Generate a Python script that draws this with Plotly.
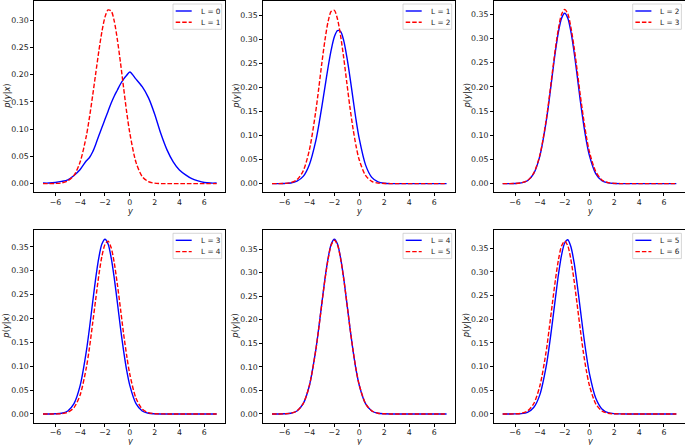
import plotly.graph_objects as go

W, H = 685, 445

# ---------------- data ----------------
x_vals = [-7.0, -6.5, -6.0, -5.5, -5.0, -4.5, -4.0, -3.5,
          -3.25, -3.0, -2.75, -2.5, -2.25, -2.0, -1.75, -1.5, -1.25, -1.0,
          -0.75, -0.5, -0.25, 0.0,
          0.5, 1.0, 1.5, 2.0, 2.5, 3.0, 3.5, 4.0, 4.5, 5.0, 5.5, 6.0, 6.5, 7.0]

x_ticks = [-6, -4, -2, 0, 2, 4, 6]

# panel 1
p1_L0 = [0.001, 0.001, 0.002, 0.004, 0.007, 0.015, 0.026, 0.042,
         0.048, 0.058, 0.072, 0.088, 0.103, 0.118, 0.133, 0.148, 0.161, 0.172,
         0.183, 0.192, 0.199, 0.205,
         0.192, 0.178, 0.158, 0.128, 0.092, 0.062, 0.040, 0.025, 0.016, 0.009,
         0.005, 0.002, 0.001, 0.001]
p1_L1 = [0.0, 0.0, 0.0003, 0.0012, 0.005, 0.015, 0.040, 0.088,
         0.122, 0.161, 0.202, 0.243, 0.279, 0.306, 0.319, 0.317, 0.298, 0.264,
         0.222, 0.176, 0.131, 0.093,
         0.039, 0.013, 0.0036, 0.0008, 0.0, 0.0, 0.0, 0.0, 0.0, 0.0,
         0.0, 0.0, 0.0, 0.0]
# panel 2
p2_L1 = [0.0, 0.0, 0.0003, 0.0012, 0.005, 0.015, 0.040, 0.088,
         0.122, 0.161, 0.202, 0.243, 0.279, 0.306, 0.319, 0.317, 0.298, 0.264,
         0.222, 0.176, 0.131, 0.093,
         0.039, 0.013, 0.0036, 0.0008, 0.0, 0.0, 0.0, 0.0, 0.0, 0.0,
         0.0, 0.0, 0.0, 0.0]
p2_L2 = [0.0, 0.0, 0.0004, 0.0019, 0.0081, 0.0266, 0.0704, 0.149,
         0.199, 0.252, 0.300, 0.338, 0.359, 0.361, 0.343, 0.308, 0.262, 0.210,
         0.159, 0.114, 0.077, 0.049,
         0.017, 0.0046, 0.001, 0.0002, 0.0, 0.0, 0.0, 0.0, 0.0, 0.0,
         0.0, 0.0, 0.0, 0.0]
# panel 3
p3_L2 = [0.0, 0.0, 0.0002, 0.0014, 0.0059, 0.0207, 0.0574, 0.127,
         0.173, 0.224, 0.273, 0.314, 0.342, 0.352, 0.342, 0.314, 0.273, 0.224,
         0.173, 0.127, 0.0877, 0.0574,
         0.0207, 0.0059, 0.0014, 0.0002, 0.0, 0.0, 0.0, 0.0, 0.0, 0.0,
         0.0, 0.0, 0.0, 0.0]
p3_L3 = [0.0, 0.0, 0.0002, 0.0015, 0.0062, 0.0215, 0.059, 0.130,
         0.177, 0.229, 0.279, 0.321, 0.350, 0.360, 0.351, 0.323, 0.283, 0.235,
         0.184, 0.138, 0.097, 0.065,
         0.025, 0.0075, 0.002, 0.0004, 0.0, 0.0, 0.0, 0.0, 0.0, 0.0,
         0.0, 0.0, 0.0, 0.0]
# panel 4
p4_L3 = [0.0, 0.0, 0.0003, 0.0014, 0.0062, 0.0215, 0.0597, 0.132,
         0.180, 0.233, 0.284, 0.327, 0.356, 0.366, 0.356, 0.327, 0.284, 0.233,
         0.180, 0.132, 0.0911, 0.0597,
         0.0215, 0.0062, 0.0014, 0.0003, 0.0, 0.0, 0.0, 0.0, 0.0, 0.0,
         0.0, 0.0, 0.0, 0.0]
p4_L4 = [0.0, 0.0, 0.0001, 0.0007, 0.0035, 0.0133, 0.0402, 0.0977,
         0.139, 0.189, 0.240, 0.290, 0.330, 0.355, 0.362, 0.348, 0.316, 0.271,
         0.220, 0.168, 0.122, 0.0833,
         0.0329, 0.0104, 0.0026, 0.0005, 0.0001, 0.0, 0.0, 0.0, 0.0, 0.0,
         0.0, 0.0, 0.0, 0.0]
# panel 5
p5_L4 = [0.0, 0.0, 0.0003, 0.0014, 0.0063, 0.0218, 0.0605, 0.134,
         0.183, 0.236, 0.288, 0.331, 0.361, 0.371, 0.361, 0.331, 0.288, 0.236,
         0.183, 0.134, 0.0924, 0.0605,
         0.0218, 0.0063, 0.0014, 0.0003, 0.0, 0.0, 0.0, 0.0, 0.0, 0.0,
         0.0, 0.0, 0.0, 0.0]
p5_L5 = [0.0, 0.0, 0.0003, 0.0015, 0.0064, 0.0220, 0.0608, 0.134,
         0.182, 0.235, 0.286, 0.329, 0.359, 0.369, 0.359, 0.330, 0.287, 0.236,
         0.183, 0.135, 0.0930, 0.0612,
         0.0222, 0.0065, 0.0015, 0.0003, 0.0, 0.0, 0.0, 0.0, 0.0, 0.0,
         0.0, 0.0, 0.0, 0.0]
# panel 6
p6_L5 = [0.0, 0.0, 0.0001, 0.0007, 0.0035, 0.0135, 0.0408, 0.0994,
         0.142, 0.192, 0.244, 0.295, 0.336, 0.361, 0.368, 0.353, 0.321, 0.275,
         0.223, 0.171, 0.124, 0.0846,
         0.0335, 0.0106, 0.0026, 0.0005, 0.0001, 0.0, 0.0, 0.0, 0.0, 0.0,
         0.0, 0.0, 0.0, 0.0]
p6_L6 = [0.0, 0.0, 0.0003, 0.0014, 0.0062, 0.0215, 0.0595, 0.131,
         0.180, 0.232, 0.283, 0.326, 0.355, 0.365, 0.355, 0.326, 0.283, 0.232,
         0.180, 0.131, 0.0909, 0.0595,
         0.0215, 0.0062, 0.0014, 0.0003, 0.0, 0.0, 0.0, 0.0, 0.0, 0.0,
         0.0, 0.0, 0.0, 0.0]

blue_names = ["L = 0", "L = 1", "L = 2", "L = 3", "L = 4", "L = 5"]
red_names = ["L = 1", "L = 2", "L = 3", "L = 4", "L = 5", "L = 6"]
blue_series = [p1_L0, p2_L1, p3_L2, p4_L3, p5_L4, p6_L5]
red_series = [p1_L1, p2_L2, p3_L3, p4_L4, p5_L5, p6_L6]
y_peaks = [0.32, 0.363, 0.36, 0.367, 0.372, 0.370]

# ---------------- layout geometry (pixels) ----------------
col_px = [(34.3, 225.3), (263.3, 455.3), (494.0, 685.0)]
row_px = [(0.7, 192.3), (230.0, 422.7)]

BLUE, RED = "#0000ff", "#ff0000"
DASH = "4.5px,2px"
FONT = "DejaVu Sans"
TXT = "#222222"


def px(x):
    return x / W


def py(y):
    return 1 - y / H


fig = go.Figure()
layout = dict(
    width=W, height=H,
    margin=dict(l=0, r=0, t=0, b=0),
    paper_bgcolor="white", plot_bgcolor="white",
    showlegend=False,
    font=dict(family=FONT, size=8, color=TXT),
)
annotations = []
shapes = []

for i in range(6):
    r, c = divmod(i, 3)
    sfx = "" if i == 0 else str(i + 1)
    xa, ya = "x" + sfx, "y" + sfx
    L, R = col_px[c]
    T, B = row_px[r]

    fig.add_trace(go.Scatter(
        x=x_vals, y=blue_series[i], name=blue_names[i], mode="lines",
        line=dict(color=BLUE, width=1.4, shape="spline", smoothing=0.8),
        xaxis=xa, yaxis=ya))
    fig.add_trace(go.Scatter(
        x=x_vals, y=red_series[i], name=red_names[i], mode="lines",
        line=dict(color=RED, width=1.4, dash=DASH, shape="spline", smoothing=0.8),
        xaxis=xa, yaxis=ya))

    common = dict(showline=True, mirror=True, linecolor="#000000", linewidth=1,
                  ticks="outside", ticklen=3, tickwidth=1, tickcolor="#000000",
                  showgrid=False, zeroline=False,
                  tickfont=dict(family=FONT, size=7.8, color=TXT))
    pk = y_peaks[i]
    layout["xaxis" + sfx] = dict(domain=[px(L), px(R)], anchor=ya,
                                 range=[-7.7, 7.7], tickmode="array",
                                 tickvals=x_ticks, ticklabelstandoff=-1,
                                 **common)
    layout["yaxis" + sfx] = dict(domain=[py(B), py(T)], anchor=xa,
                                 range=[-0.05 * pk, 1.05 * pk], dtick=0.05,
                                 tick0=0, tickformat=".2f", **common)

    # legend box (matplotlib style, upper right)
    bx1 = R - 3.6
    bx0 = bx1 - 48.7
    by0 = T + 3.3
    by1 = by0 + 25.3
    shapes.append(dict(type="rect", xref="paper", yref="paper",
                       x0=px(bx0), x1=px(bx1), y0=py(by1), y1=py(by0),
                       fillcolor="rgba(255,255,255,0.8)",
                       line=dict(color="#cccccc", width=0.8), layer="above"))
    for k, (nm, col, dash) in enumerate([(blue_names[i], BLUE, "solid"),
                                          (red_names[i], RED, DASH)]):
        ey = by0 + 7 + k * 11.3
        shapes.append(dict(type="line", xref="paper", yref="paper",
                           x0=px(bx0 + 2.7), x1=px(bx0 + 18.7),
                           y0=py(ey), y1=py(ey),
                           line=dict(color=col, width=1.4, dash=dash),
                           layer="above"))
        annotations.append(dict(text=nm, xref="paper", yref="paper",
                                x=px(bx0 + 25.5), y=py(ey),
                                xanchor="left", yanchor="middle",
                                showarrow=False,
                                font=dict(family=FONT, size=7.3, color=TXT)))

    annotations.append(dict(text="<i>y</i>", xref="paper", yref="paper",
                            x=px((L + R) / 2), y=py(B + 18.4),
                            xanchor="center", yanchor="middle", showarrow=False,
                            font=dict(family=FONT, size=8.3, color=TXT)))
    annotations.append(dict(text="<i>p</i>(<i>y</i>|<i>x</i>)", xref="paper",
                            yref="paper", x=px(L - 28), y=py((T + B) / 2),
                            xanchor="center", yanchor="middle", textangle=-90,
                            showarrow=False,
                            font=dict(family=FONT, size=8.3, color=TXT)))

layout["annotations"] = annotations
layout["shapes"] = shapes
fig.update_layout(**layout)
fig.write_html("out.html",
               config={"displayModeBar": False, "staticPlot": True},
               post_script="document.body.style.margin='0';"
                           "document.body.style.overflow='hidden';")
